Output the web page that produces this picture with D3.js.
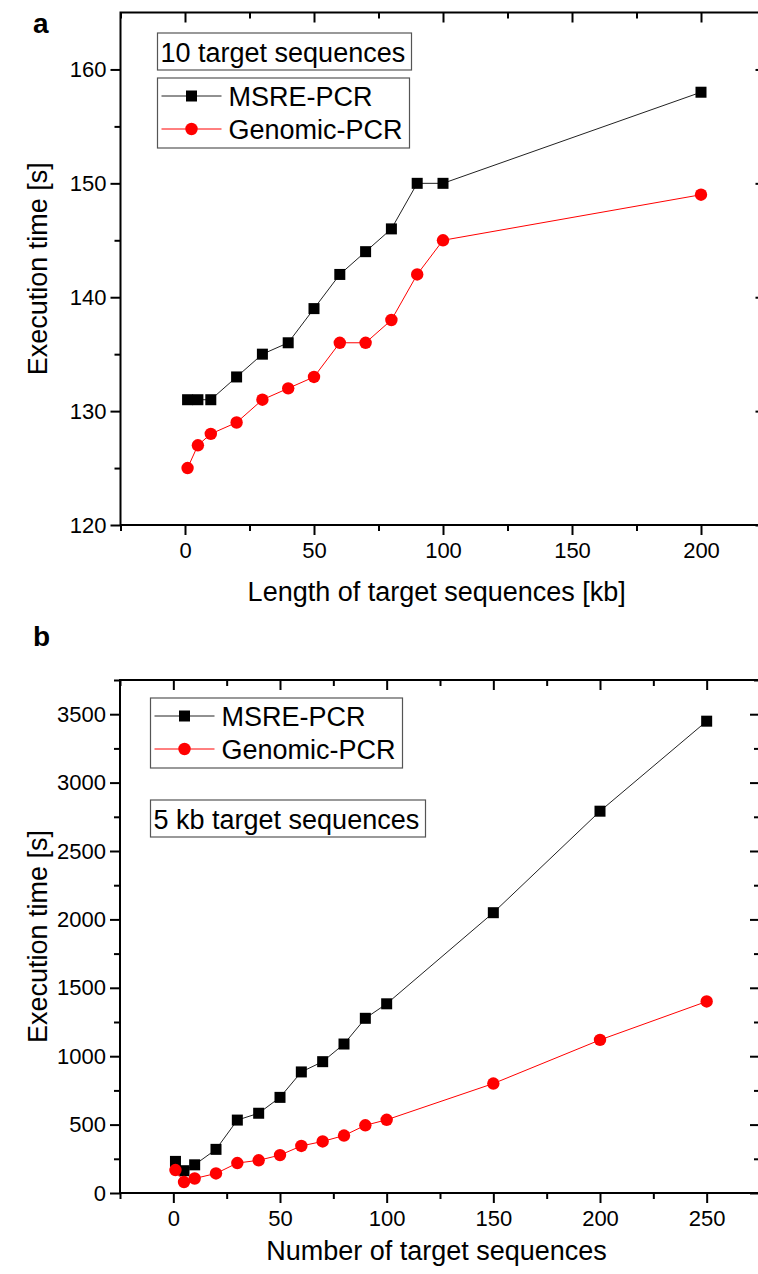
<!DOCTYPE html>
<html>
<head>
<meta charset="utf-8">
<script src="https://cdn.jsdelivr.net/npm/d3@7"></script>
<style>
  body { margin: 0; background: #fff; }
  svg text { font-family: "Liberation Sans", Arial, sans-serif; fill: #000; }
</style>
</head>
<body>
<div id="my_dataviz"></div>
<script>
// panel a : 10 target sequences, length varies
var lengthKb = [1, 5, 10, 20, 30, 40, 50, 60, 70, 80, 90, 100, 200];
var msreA    = [131, 131, 131, 133, 135, 136, 139, 142, 144, 146, 150, 150, 158];
var genomicA = [125, 127, 128, 129, 131, 132, 133, 136, 136, 138, 142, 145, 149];

// panel b : 5 kb target sequences, number varies
var numSeq   = [1, 5, 10, 20, 30, 40, 50, 60, 70, 80, 90, 100, 150, 200, 250];
var msreB    = [231, 163, 206, 319, 533, 583, 699, 885, 960, 1089, 1277, 1383, 2049, 2791, 3449];
var genomicB = [168, 80, 106, 143, 219, 239, 277, 344, 377, 420, 495, 535, 800, 1119, 1400];

var xTicksA = [0, 50, 100, 150, 200];
var yTicksA = [120, 130, 140, 150, 160];
var xTicksB = [0, 50, 100, 150, 200, 250];
var yTicksB = [0, 500, 1000, 1500, 2000, 2500, 3000, 3500];

var seriesNames = ["MSRE-PCR", "Genomic-PCR"];

var W = 758, H = 1274;
var svg = d3.select("#my_dataviz")
  .append("svg")
    .attr("width", W)
    .attr("height", H);

function drawPanel(p) {
  var g = svg.append("g");

  var x = d3.scaleLinear().domain(p.xDomain).range([p.left, p.right]);
  var y = d3.scaleLinear().domain(p.yDomain).range([p.bottom, p.top]);

  // frame
  g.append("rect")
    .attr("x", p.left).attr("y", p.top)
    .attr("width", p.right - p.left).attr("height", p.bottom - p.top)
    .attr("fill", "none").attr("stroke", "#000").attr("stroke-width", 2);

  function styleAxis(sel) {
    sel.select(".domain").remove();
    sel.selectAll(".tick line").attr("stroke", "#000").attr("stroke-width", 2);
    sel.selectAll(".tick text")
      .style("font-size", "22px")
      .style("font-family", '"Liberation Sans", Arial, sans-serif');
  }

  // bottom axis, major + minor
  g.append("g").attr("transform", "translate(0," + p.bottom + ")")
    .call(d3.axisBottom(x).tickValues(p.xTicks).tickSize(10).tickPadding(7).tickFormat(d3.format("d")))
    .call(styleAxis);
  g.append("g").attr("transform", "translate(0," + p.bottom + ")")
    .call(d3.axisBottom(x).tickValues(p.xMinor).tickSize(6).tickFormat(""))
    .call(styleAxis);

  // left axis
  g.append("g").attr("transform", "translate(" + p.left + ",0)")
    .call(d3.axisLeft(y).tickValues(p.yTicks).tickSize(10).tickPadding(4).tickFormat(d3.format("d")))
    .call(styleAxis);
  g.append("g").attr("transform", "translate(" + p.left + ",0)")
    .call(d3.axisLeft(y).tickValues(p.yMinor).tickSize(6).tickFormat(""))
    .call(styleAxis);

  // top and right, ticks pointing inward
  g.append("g").attr("transform", "translate(0," + p.top + ")")
    .call(d3.axisTop(x).tickValues(p.xTicks).tickSize(-10).tickFormat(""))
    .call(styleAxis);
  g.append("g").attr("transform", "translate(0," + p.top + ")")
    .call(d3.axisTop(x).tickValues(p.xMinor).tickSize(-6).tickFormat(""))
    .call(styleAxis);
  g.append("g").attr("transform", "translate(" + p.right + ",0)")
    .call(d3.axisRight(y).tickValues(p.yTicks).tickSize(-10).tickFormat(""))
    .call(styleAxis);
  g.append("g").attr("transform", "translate(" + p.right + ",0)")
    .call(d3.axisRight(y).tickValues(p.yMinor).tickSize(-6).tickFormat(""))
    .call(styleAxis);

  // axis titles
  g.append("text")
    .attr("x", (p.left + 765) / 2 - 6).attr("y", p.xTitleY)
    .attr("text-anchor", "middle")
    .style("font-size", "27px")
    .text(p.xTitle);
  g.append("text")
    .attr("transform", "translate(" + 47 + "," + ((p.top + p.bottom) / 2) + ") rotate(-90)")
    .attr("text-anchor", "middle")
    .style("font-size", "27px")
    .text("Execution time [s]");

  // panel letter
  g.append("text")
    .attr("x", 33).attr("y", p.letterY)
    .style("font-size", "28px").style("font-weight", "bold")
    .text(p.letter);

  // lines
  var line = d3.line()
    .x(function(d) { return x(d[0]); })
    .y(function(d) { return y(d[1]); });

  var msre = p.xs.map(function(v, i) { return [v, p.msre[i]]; });
  var gen = p.xs.map(function(v, i) { return [v, p.genomic[i]]; });

  g.append("path").datum(msre).attr("d", line)
    .attr("fill", "none").attr("stroke", "#222").attr("stroke-width", 1);
  g.selectAll(".sq").data(msre).enter().append("rect")
    .attr("x", function(d) { return x(d[0]) - 5.5; })
    .attr("y", function(d) { return y(d[1]) - 5.5; })
    .attr("width", 11).attr("height", 11)
    .attr("fill", "#000");

  g.append("path").datum(gen).attr("d", line)
    .attr("fill", "none").attr("stroke", "#f00").attr("stroke-width", 1);
  g.selectAll(".ci").data(gen).enter().append("circle")
    .attr("cx", function(d) { return x(d[0]); })
    .attr("cy", function(d) { return y(d[1]); })
    .attr("r", 6.2)
    .attr("fill", "#f00");

  // legend box
  var lg = p.legend;
  g.append("rect")
    .attr("x", lg.x).attr("y", lg.y).attr("width", lg.w).attr("height", lg.h)
    .attr("fill", "#fff").attr("stroke", "#555").attr("stroke-width", 1.2);
  seriesNames.forEach(function(name, i) {
    var cy = lg.y + 18 + i * 33;
    g.append("line")
      .attr("x1", lg.x + 4).attr("x2", lg.x + 64)
      .attr("y1", cy).attr("y2", cy)
      .attr("stroke", i == 0 ? "#222" : "#f00").attr("stroke-width", 1);
    if (i == 0) {
      g.append("rect").attr("x", lg.x + 34 - 5.5).attr("y", cy - 5.5)
        .attr("width", 11).attr("height", 11).attr("fill", "#000");
    } else {
      g.append("circle").attr("cx", lg.x + 34).attr("cy", cy).attr("r", 6.2).attr("fill", "#f00");
    }
    g.append("text")
      .attr("x", lg.x + 71).attr("y", cy + 10)
      .style("font-size", "27px")
      .text(name);
  });

  // note box
  var nb = p.note;
  g.append("rect")
    .attr("x", nb.x).attr("y", nb.y).attr("width", nb.w).attr("height", nb.h)
    .attr("fill", "#fff").attr("stroke", "#555").attr("stroke-width", 1.2);
  g.append("text")
    .attr("x", nb.x + 3).attr("y", nb.y + nb.h / 2 + 10)
    .style("font-size", "27px")
    .text(nb.text);
}

drawPanel({
  letter: "a", letterY: 33,
  left: 120.5, right: 765.5, top: 12.5, bottom: 525,
  xDomain: [-25, 225], yDomain: [120, 165],
  xTicks: xTicksA, xMinor: [-25, 25, 75, 125, 175, 225],
  yTicks: yTicksA, yMinor: [125, 135, 145, 155],
  xs: lengthKb, msre: msreA, genomic: genomicA,
  xTitle: "Length of target sequences [kb]", xTitleY: 601,
  legend: { x: 157.5, y: 78, w: 252, h: 70 },
  note: { x: 157.5, y: 33, w: 254, h: 37, text: "10 target sequences" }
});

drawPanel({
  letter: "b", letterY: 646,
  left: 120, right: 760, top: 680, bottom: 1193,
  xDomain: [-25, 275], yDomain: [0, 3750],
  xTicks: xTicksB, xMinor: [-25, 25, 75, 125, 175, 225, 275],
  yTicks: yTicksB, yMinor: [250, 750, 1250, 1750, 2250, 2750, 3250, 3750],
  xs: numSeq, msre: msreB, genomic: genomicB,
  xTitle: "Number of target sequences", xTitleY: 1260,
  legend: { x: 150.5, y: 698, w: 252, h: 70 },
  note: { x: 150.5, y: 800, w: 275, h: 37, text: "5 kb target sequences" }
});
</script>
</body>
</html>
